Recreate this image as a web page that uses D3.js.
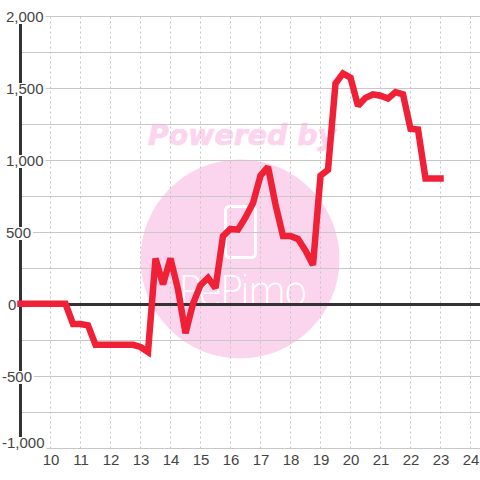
<!DOCTYPE html>
<html>
<head>
<meta charset="utf-8">
<script src="https://cdn.jsdelivr.net/npm/d3@7"></script>
<style>
  html, body { margin: 0; padding: 0; background: #fff; }
  text { font-family: "Liberation Sans", Arial, sans-serif; }
</style>
</head>
<body>
<svg id="chart" width="480" height="480"></svg>
<script>
const hours = [
  9, 9.25, 9.5, 9.75, 10, 10.25, 10.5, 10.75, 11, 11.25, 11.5, 11.75,
  12, 12.25, 12.5, 12.75, 13, 13.25, 13.5, 13.75, 14, 14.25, 14.5, 14.75,
  15, 15.25, 15.5, 15.75, 16, 16.25, 16.5, 16.75, 17, 17.25, 17.5, 17.75,
  18, 18.25, 18.5, 18.75, 19, 19.25, 19.5, 19.75, 20, 20.25, 20.5, 20.75,
  21, 21.25, 21.5, 21.75, 22, 22.25, 22.5, 22.75, 23
];
const values = [
  0, 0, 0, 0, 0, 0, 0, -140, -140, -150, -285, -285,
  -285, -285, -285, -285, -300, -335, 315, 135, 315, 100, -205, 0,
  130, 180, 110, 470, 520, 515, 600, 700, 890, 950, 690, 470,
  470, 450, 370, 270, 890, 930, 1530, 1600, 1570, 1375, 1430, 1455,
  1445, 1425, 1470, 1455, 1215, 1210, 870, 870, 870
];
const yLabels = [2000, 1500, 1000, 500, 0, -500, -1000];
const yGrid = [2000, 1750, 1500, 1250, 1000, 750, 500, 250, 0, -250, -500, -750, -1000];
const xTicks = [10, 11, 12, 13, 14, 15, 16, 17, 18, 19, 20, 21, 22, 23, 24];

const svg = d3.select('#chart');

const x = d3.scaleLinear().domain([10, 24]).range([50.5, 470.5]);
const y = d3.scaleLinear().domain([2000, -1000]).range([16.5, 448.5]);

// watermark sits under the grid
const mark = svg.append('g').attr('class', 'watermark');
mark.append('circle')
  .attr('cx', 240).attr('cy', 259).attr('r', 99.5)
  .attr('fill', '#fbd5ee');
mark.append('text')
  .attr('x', 148).attr('y', 145)
  .attr('textLength', 188)
  .attr('lengthAdjust', 'spacingAndGlyphs')
  .attr('stroke', '#fbd5ee')
  .attr('stroke-width', 0.7)
  .style('font-family', '"DejaVu Sans", sans-serif')
  .style('font-weight', 'bold')
  .style('font-style', 'italic')
  .style('font-size', '29px')
  .attr('fill', '#fbd5ee')
  .text('Powered by');
mark.append('rect')
  .attr('x', 225.5).attr('y', 206.5).attr('width', 30).attr('height', 51).attr('rx', 4)
  .attr('fill', 'none').attr('stroke', '#fff').attr('stroke-width', 3);
mark.append('text')
  .attr('x', 178).attr('y', 305)
  .attr('textLength', 130)
  .attr('lengthAdjust', 'spacing')
  .style('font-family', '"DejaVu Sans", sans-serif')
  .style('font-weight', '200')
  .style('font-size', '40px')
  .attr('fill', '#fff')
  .text('PePimo');

// grid
svg.append('g').selectAll('line')
  .data(yGrid)
  .join('line')
  .attr('x1', 20).attr('x2', 480)
  .attr('y1', d => y(d)).attr('y2', d => y(d))
  .attr('stroke', '#c8c8c8').attr('stroke-width', 1);

svg.append('g').selectAll('line')
  .data(xTicks)
  .join('line')
  .attr('x1', d => x(d)).attr('x2', d => x(d))
  .attr('y1', y(2000)).attr('y2', y(-1000))
  .attr('stroke', '#c4c4c4').attr('stroke-width', 1).attr('stroke-dasharray', '2,3');

// axis line and zero line
svg.append('line')
  .attr('x1', 20.5).attr('x2', 20.5)
  .attr('y1', y(2000)).attr('y2', y(-1000))
  .attr('stroke', '#333').attr('stroke-width', 3);
svg.append('line')
  .attr('x1', 20).attr('x2', 480)
  .attr('y1', y(0)).attr('y2', y(0))
  .attr('stroke', '#333').attr('stroke-width', 3);

// y labels have a white box behind them, it cuts the axis line
const yAxis = svg.append('g').attr('class', 'y-labels');
yLabels.forEach(v => {
  const cy = v === -1000 ? y(v) - 6 : y(v);
  const left = v < 0 ? 2 : v === 0 ? 8 : 6;
  const box = yAxis.append('rect').attr('fill', '#fff');
  const label = yAxis.append('text')
    .attr('x', left).attr('y', cy + 5.5)
    .style('font-size', '15px')
    .attr('fill', '#444')
    .text(d3.format(',')(v).replace('\u2212', '-'));
  if (v !== 0) {
    box.attr('x', left - 1).attr('y', cy - 5.5)
      .attr('width', label.node().getComputedTextLength() + 3)
      .attr('height', 13);
  }
});

// x labels
const xAxis = d3.axisBottom(x).tickValues(xTicks).tickSize(0).tickPadding(0).tickFormat(d3.format('d'));
const xGroup = svg.append('g').attr('transform', `translate(0,${y(-1000) + 6})`).call(xAxis);
xGroup.select('.domain').remove();
xGroup.selectAll('text')
  .style('font-family', '"Liberation Sans", Arial, sans-serif')
  .style('font-size', '15px')
  .attr('fill', '#444');

// series, drawn a little above the zero line like the original
const line = d3.line()
  .x((d, i) => x(hours[i]))
  .y(d => y(d) - 0.7);

svg.append('path')
  .datum(values)
  .attr('d', line)
  .attr('fill', 'none')
  .attr('stroke', '#f02037')
  .attr('stroke-width', 6.5)
  .attr('stroke-linecap', 'square')
  .attr('stroke-linejoin', 'miter')
  .attr('stroke-miterlimit', 2);
</script>
</body>
</html>
